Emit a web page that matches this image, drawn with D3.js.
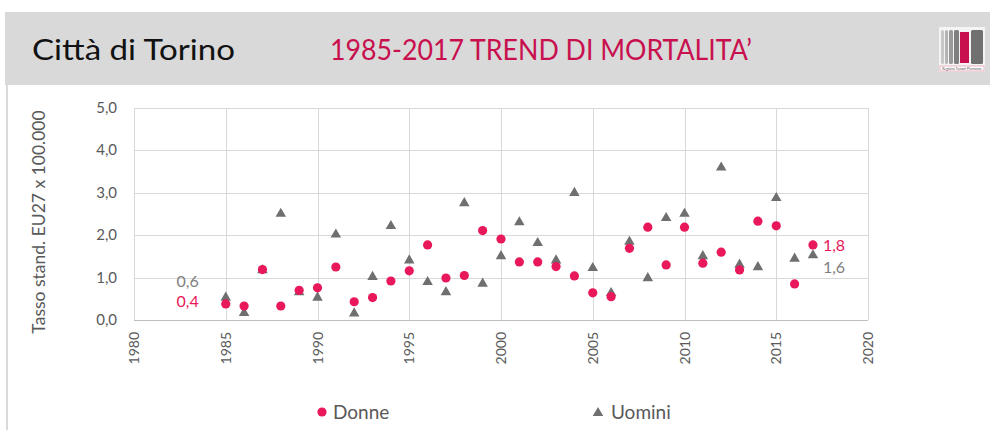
<!DOCTYPE html>
<html>
<head>
  <meta charset="utf-8">
  <title>Città di Torino - trend di mortalità</title>
  <script src="https://d3js.org/d3.v7.min.js"></script>
  <style>
    body { margin: 0; background: #fff; }
    svg { display: block; font-family: Lato, "Noto Sans", sans-serif; }
    .grid line { stroke: #d9d9d9; stroke-width: 1px; shape-rendering: crispEdges; }
    .tick-label { fill: #595959; font-size: 15px; }
    .axis-title { fill: #595959; font-size: 17.5px; }
  </style>
</head>
<body>
  <svg width="990" height="430"></svg>

  <script>
    // anni e valori
    const years = d3.range(1985, 2018);
    const donne = [0.38, 0.33, 1.19, 0.33, 0.70, 0.76, 1.25, 0.43, 0.53, 0.92, 1.16, 1.77, 0.99, 1.05, 2.11, 1.91,
                   1.37, 1.37, 1.26, 1.04, 0.64, 0.55, 1.69, 2.19, 1.30, 2.19, 1.34, 1.60, 1.18, 2.33, 2.22, 0.85, 1.77];
    const uomini = [0.55, 0.19, 1.20, 2.53, 0.68, 0.55, 2.04, 0.18, 1.04, 2.24, 1.43, 0.92, 0.68, 2.78, 0.88, 1.53,
                    2.33, 1.84, 1.43, 3.02, 1.25, 0.66, 1.87, 1.01, 2.43, 2.53, 1.53, 3.62, 1.33, 1.27, 2.90, 1.47, 1.55];
    const xTicks = [1980, 1985, 1990, 1995, 2000, 2005, 2010, 2015, 2020];
    const yTicks = [0, 1, 2, 3, 4, 5];

    const red = "#e8185a";
    const grey = "#6f6f6f";

    const svg = d3.select("svg");

    // intestazione
    svg.append("rect").attr("x", 5).attr("y", 12).attr("width", 985).attr("height", 73).attr("fill", "#d9d9d9");
    svg.append("rect").attr("x", 6).attr("y", 85).attr("width", 2).attr("height", 345).attr("fill", "#d9d9d9");

    svg.append("text")
      .attr("x", 32).attr("y", 60)
      .attr("font-size", 28)
      .attr("textLength", 203).attr("lengthAdjust", "spacingAndGlyphs")
      .attr("fill", "#111")
      .text("Città di Torino");

    svg.append("text")
      .attr("x", 330).attr("y", 60)
      .attr("font-size", 28)
      .attr("textLength", 422).attr("lengthAdjust", "spacingAndGlyphs")
      .attr("fill", "#c8104e")
      .text("1985-2017 TREND DI MORTALITA’");

    // logo
    const logo = svg.append("g").attr("transform", "translate(939,27)");
    logo.append("rect").attr("width", 46).attr("height", 45).attr("fill", "#f4f4f4");
    [[2, 3, "#c8c8c8"], [6, 3, "#b4b4b4"], [10, 4, "#9a9a9a"], [15, 5, "#808080"], [32, 12, "#707070"]].forEach(b => {
      logo.append("rect").attr("x", b[0]).attr("y", 3).attr("width", b[1]).attr("height", 34)
        .attr("rx", 1.5).attr("fill", b[2]);
    });
    logo.append("rect").attr("x", 21).attr("y", 5).attr("width", 9).attr("height", 31).attr("fill", "#c8104e");
    logo.append("rect").attr("x", 1).attr("y", 39).attr("width", 44).attr("height", 5)
      .attr("fill", "#fff").attr("stroke", "#e7a0b5").attr("stroke-width", 0.8);
    logo.append("text").attr("x", 23).attr("y", 43).attr("text-anchor", "middle")
      .attr("font-size", 3.5).attr("fill", "#555").text("Registro Tumori Piemonte");

    // scale
    const x = d3.scaleLinear().domain([1980, 2020]).range([134, 868]);
    const y = d3.scaleLinear().domain([0, 5]).range([320, 108]);

    // griglia
    const grid = svg.append("g").attr("class", "grid");
    grid.selectAll("line.h").data(yTicks).enter().append("line")
      .attr("x1", x(1980)).attr("x2", x(2020))
      .attr("y1", d => Math.round(y(d)) + 0.5).attr("y2", d => Math.round(y(d)) + 0.5);
    grid.selectAll("line.v").data(xTicks).enter().append("line")
      .attr("y1", y(0)).attr("y2", y(5))
      .attr("x1", d => Math.round(x(d)) + 0.5).attr("x2", d => Math.round(x(d)) + 0.5);
    svg.append("line")
      .attr("x1", x(1980)).attr("x2", x(2020))
      .attr("y1", Math.round(y(0)) + 0.5).attr("y2", Math.round(y(0)) + 0.5)
      .attr("stroke", "#bfbfbf").attr("shape-rendering", "crispEdges");

    // etichette assi
    const fmt = d => d3.format(".1f")(d).replace(".", ",");
    svg.selectAll("text.ytick").data(yTicks).enter().append("text")
      .attr("class", "tick-label")
      .attr("x", 117).attr("y", d => y(d) + 5)
      .attr("text-anchor", "end")
      .text(fmt);

    svg.selectAll("text.xtick").data(xTicks).enter().append("text")
      .attr("class", "tick-label")
      .attr("text-anchor", "end")
      .attr("transform", d => `translate(${x(d) + 5},${y(0) + 12}) rotate(-90)`)
      .style("font-size", "14px")
      .text(d => d);

    svg.append("text")
      .attr("class", "axis-title")
      .attr("text-anchor", "middle")
      .attr("transform", "translate(45,222) rotate(-90)")
      .text("Tasso stand. EU27 x 100.000");

    // punti
    const triangle = d3.symbol().type(d3.symbolTriangle).size(48);

    svg.selectAll("path.uomini").data(uomini).enter().append("path")
      .attr("d", triangle)
      .attr("fill", grey)
      .attr("transform", (d, i) => `translate(${x(years[i])},${y(d) + 1})`);

    svg.selectAll("circle.donne").data(donne).enter().append("circle")
      .attr("cx", (d, i) => x(years[i]))
      .attr("cy", d => y(d))
      .attr("r", 4.6)
      .attr("fill", red);

    // etichette dati (primo e ultimo anno)
    const lab = svg.append("g").attr("font-size", 16);
    lab.append("text").attr("x", x(1985) - 27).attr("y", y(0.6) - 8).attr("text-anchor", "end")
      .attr("fill", "#7f7f7f").text("0,6");
    lab.append("text").attr("x", x(1985) - 27).attr("y", y(0.4) + 4).attr("text-anchor", "end")
      .attr("fill", red).text("0,4");
    lab.append("text").attr("x", x(2017) + 10).attr("y", y(1.8) + 7)
      .attr("fill", red).text("1,8");
    lab.append("text").attr("x", x(2017) + 10).attr("y", y(1.6) + 21)
      .attr("fill", "#7f7f7f").text("1,6");

    // legenda
    const leg = svg.append("g").attr("font-size", 19).attr("fill", "#595959");
    leg.append("circle").attr("cx", 322).attr("cy", 412).attr("r", 4.6).attr("fill", red);
    leg.append("text").attr("x", 333).attr("y", 419).text("Donne");
    leg.append("path").attr("d", triangle).attr("fill", grey).attr("transform", "translate(598,413)");
    leg.append("text").attr("x", 611).attr("y", 419).text("Uomini");
  </script>
</body>
</html>
